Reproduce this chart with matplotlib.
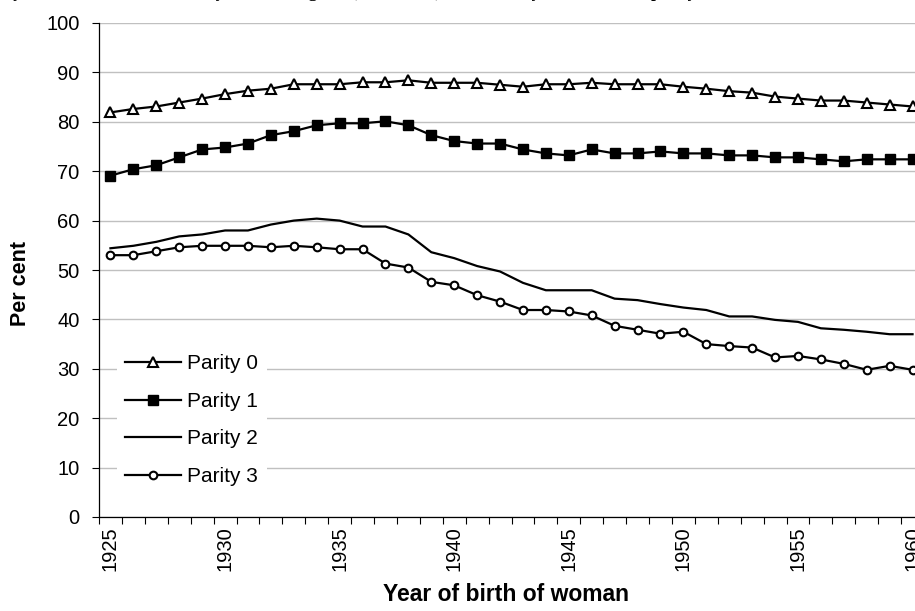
import numpy as np
import matplotlib
matplotlib.use('Agg')
import matplotlib.pyplot as plt

plt.rcParams['font.family'] = ['Liberation Sans', 'DejaVu Sans']

# values (per cent, women born 1925-1960)
years = list(range(1925, 1961))
parity0 = [81.9, 82.6, 83.1, 83.9, 84.7, 85.6, 86.3, 86.7, 87.6, 87.6,
           87.6, 88.0, 88.0, 88.4, 87.9, 87.9, 87.9, 87.5, 87.1, 87.6,
           87.6, 87.9, 87.6, 87.6, 87.6, 87.1, 86.7, 86.2, 85.9, 85.1,
           84.7, 84.3, 84.3, 83.9, 83.5, 83.1]
parity1 = [69.1, 70.4, 71.2, 72.8, 74.4, 74.8, 75.6, 77.3, 78.1, 79.3,
           79.7, 79.7, 80.1, 79.3, 77.3, 76.1, 75.6, 75.6, 74.4, 73.6,
           73.2, 74.4, 73.6, 73.6, 74.0, 73.6, 73.6, 73.2, 73.2, 72.8,
           72.8, 72.4, 72.0, 72.4, 72.4, 72.4]
parity2 = [54.4, 54.9, 55.7, 56.8, 57.2, 58.0, 58.0, 59.2, 60.0, 60.4,
           60.0, 58.8, 58.8, 57.2, 53.6, 52.4, 50.8, 49.7, 47.4, 45.9,
           45.9, 45.9, 44.2, 43.9, 43.1, 42.4, 41.9, 40.6, 40.6, 39.9,
           39.5, 38.2, 37.9, 37.5, 37.0, 37.0]
parity3 = [53.0, 53.0, 53.8, 54.6, 54.9, 54.9, 54.9, 54.6, 54.9, 54.6,
           54.2, 54.2, 51.3, 50.5, 47.6, 46.9, 44.9, 43.6, 41.9, 41.9,
           41.6, 40.8, 38.7, 37.9, 37.1, 37.5, 35.0, 34.6, 34.3, 32.3,
           32.6, 31.9, 31.0, 29.8, 30.6, 29.8]
labels = ['Parity 0', 'Parity 1', 'Parity 2', 'Parity 3']
label_years = years[::5]

W, H = 915, 611
fig = plt.figure(figsize=(W / 100, H / 100), dpi=100)
# plot area runs past the right edge, as in the cropped original
ax = fig.add_axes([99 / W, 94 / H, 825 / W, 494 / H])

lw = 1.6
ax.plot(years, parity0, color='black', lw=lw, marker='^', ms=7,
        mfc='white', mec='black', mew=1.5, label=labels[0])
ax.plot(years, parity1, color='black', lw=lw, marker='s', ms=6.5,
        mfc='black', mec='black', label=labels[1])
ax.plot(years, parity2, color='black', lw=lw, label=labels[2])
ax.plot(years, parity3, color='black', lw=lw, marker='o', ms=5.5,
        mfc='white', mec='black', mew=1.5, label=labels[3])

ax.set_xlim(1924.5, 1960.5)
ax.set_ylim(0, 100)
ax.set_yticks(np.arange(0, 101, 10))
ax.yaxis.grid(True, color='#c0c0c0', lw=1)
ax.set_axisbelow(True)

ax.set_xticks(label_years)
ax.set_xticklabels([str(y) for y in label_years], rotation=90)
ax.set_xticks(np.arange(1924.5, 1961, 1), minor=True)
ax.tick_params(axis='x', which='major', length=0, pad=7, labelsize=14.5)
ax.tick_params(axis='x', which='minor', length=5, width=0.8, direction='out')
ax.tick_params(axis='y', length=5, width=0.8, pad=9, labelsize=14.5)

for s in ['top', 'right']:
    ax.spines[s].set_visible(False)
for s in ['left', 'bottom']:
    ax.spines[s].set_linewidth(0.9)

ax.set_xlabel('Year of birth of woman', fontsize=16.5, fontweight='bold')
ax.xaxis.set_label_coords((506 - 99) / 825, -(583 - 517) / 494)
ax.set_ylabel('Per cent', fontsize=15.5, fontweight='bold')
ax.yaxis.set_label_coords((31 - 99) / 825, (517 - 283) / 494)

leg = ax.legend(loc='upper left', bbox_to_anchor=(117 / W, 1 - 346 / H),
                bbox_transform=fig.transFigure, fontsize=15, frameon=True,
                fancybox=False, edgecolor='white', framealpha=1,
                handlelength=2.65, handletextpad=0.32, labelspacing=0.89,
                borderpad=0.4, borderaxespad=0)
leg.get_frame().set_linewidth(0)

# title of the original is cut off at the top edge, only descenders show
fig.text(-0.155, 1 + 3 / H,
         'Women at each parity who had a further child by the exact age 45 '
         '(1925\u20131960) of women by their ultimate parity',
         fontsize=12.5, fontweight='bold', family='Liberation Serif',
         va='baseline', ha='left')

fig.savefig('out.png', dpi=100)
